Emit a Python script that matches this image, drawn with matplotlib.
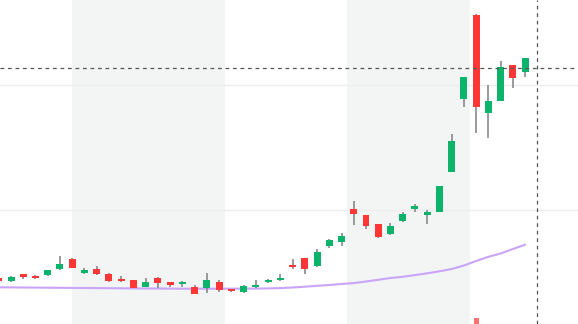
import matplotlib
matplotlib.use("Agg")
import matplotlib.pyplot as plt

# Свечи: индекс -1 обрезан левым краем
idx = list(range(-1, 43))

opens = [0.46, 0.43, 0.50, 0.485, 0.49, 0.55, 0.655, 0.515, 0.555, 0.505, 0.455, 0.44,
         0.375, 0.465, 0.42, 0.405, 0.375, 0.365, 0.425, 0.355, 0.32, 0.37, 0.42, 0.44,
         0.595, 0.657, 0.58, 0.78, 0.82, 1.153, 1.09, 0.997, 0.90, 1.03, 1.15, 1.09,
         1.123, 1.523, 2.25, 3.09, 2.113, 2.233, 2.587, 2.52]
highs = [0.47, 0.485, 0.50, 0.49, 0.54, 0.685, 0.66, 0.565, 0.58, 0.51, 0.485, 0.445,
         0.465, 0.47, 0.425, 0.43, 0.395, 0.515, 0.445, 0.355, 0.39, 0.445, 0.45, 0.505,
         0.653, 0.66, 0.747, 0.85, 0.913, 1.233, 1.095, 1.00, 1.013, 1.12, 1.20, 1.143,
         1.38, 1.90, 2.47, 3.103, 2.393, 2.627, 2.59, 2.66]
lows = [0.42, 0.425, 0.45, 0.455, 0.48, 0.545, 0.56, 0.50, 0.495, 0.425, 0.425, 0.36,
        0.37, 0.365, 0.375, 0.375, 0.30, 0.315, 0.325, 0.325, 0.315, 0.365, 0.415, 0.435,
        0.547, 0.50, 0.575, 0.763, 0.783, 0.987, 0.947, 0.865, 0.895, 1.025, 1.123, 0.997,
        1.12, 1.52, 2.173, 1.913, 1.857, 2.23, 2.363, 2.473]
closes = [0.43, 0.47, 0.47, 0.46, 0.54, 0.605, 0.565, 0.545, 0.50, 0.43, 0.43, 0.365,
          0.425, 0.415, 0.395, 0.425, 0.305, 0.44, 0.34, 0.33, 0.385, 0.395, 0.445, 0.465,
          0.572, 0.55, 0.717, 0.845, 0.885, 1.10, 0.983, 0.87, 0.977, 1.10, 1.177, 1.117,
          1.377, 1.827, 2.467, 2.167, 2.227, 2.573, 2.463, 2.657]

# Скользящая средняя
ma = [0.367, 0.366, 0.365, 0.364, 0.363, 0.362, 0.361, 0.36, 0.359, 0.358, 0.357, 0.356,
      0.355, 0.355, 0.354, 0.353, 0.353, 0.353, 0.353, 0.353, 0.354, 0.354, 0.356, 0.359,
      0.365, 0.373, 0.382, 0.39, 0.40, 0.409, 0.425, 0.442, 0.46, 0.472, 0.489, 0.507,
      0.527, 0.55, 0.585, 0.63, 0.672, 0.705, 0.75, 0.793]

# Объём (млн)
volume = [12, 10, 9, 8, 11, 18, 16, 9, 8, 10, 7, 9, 8, 9, 7, 6, 10, 12, 11, 6, 8, 7, 8, 9,
          14, 16, 18, 15, 14, 26, 20, 17, 15, 16, 14, 15, 24, 32, 38, 58, 36, 30, 22, 20]

bands = [(5.0, 17.45), (27.45, 37.5)]
grid_levels = [1.14, 2.395]
cross_x, cross_y = 42.95, 2.565

up_color = "#0bb46a"
down_color = "#ff3636"
wick_color = "#7d7f82"

fig = plt.figure(figsize=(5.78, 3.24), dpi=100)
ax = fig.add_axes([0, 0, 1, 1])
ax.set_xlim(-0.9, 46.32)
ax.set_ylim(0, 3.24)

for a, b in bands:
    ax.axvspan(a, b, color="#f3f5f5", zorder=0, lw=0)

for g in grid_levels:
    ax.axhline(g, color="#eceeee", lw=1, zorder=0.5)

# Объём на отдельной оси, видна только верхушка самого большого столбика
vax = ax.twinx()
vax.set_position([0, 0, 1, 1])
lo = 40
hi = lo + (max(volume) - lo) / (6 / 324)
vax.set_ylim(lo, hi)
vcolors = ["#ff7070" if c < o else "#5fd39a" for o, c in zip(opens, closes)]
vax.bar(idx, volume, width=0.43, color=vcolors, zorder=1)
vax.axis("off")

ax.plot(idx, ma, color="#c9a4f8", lw=1.5, zorder=2, solid_capstyle="round")

for i, o, h, l, c in zip(idx, opens, highs, lows, closes):
    col = up_color if c >= o else down_color
    ax.vlines(i, l, h, color=wick_color, lw=1.1, zorder=3)
    ax.bar(i, abs(c - o), bottom=min(o, c), width=0.57, color=col, zorder=4, lw=0)

ax.axhline(cross_y, color="#555555", lw=0.9, ls=(0, (3, 3)), zorder=5)
ax.axvline(cross_x, color="#555555", lw=0.9, ls=(0, (3, 3)), zorder=5)

ax.set_zorder(vax.get_zorder() + 1)
ax.patch.set_visible(False)
ax.axis("off")

fig.savefig("out.png", dpi=100)
